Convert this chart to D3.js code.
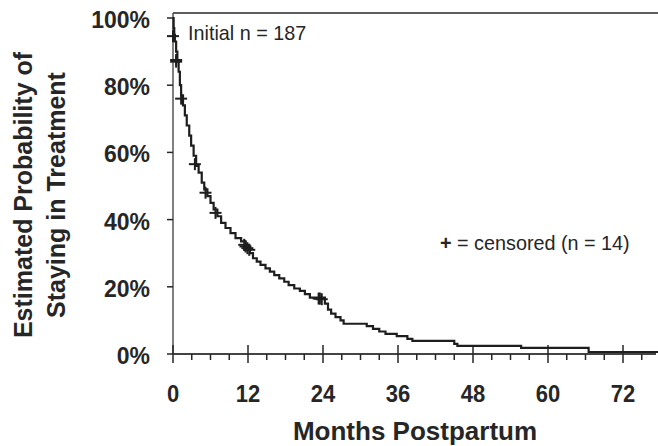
<!DOCTYPE html>
<html>
<head>
<meta charset="utf-8">
<script src="https://cdn.jsdelivr.net/npm/d3@7"></script>
<style>
  body { margin: 0; background: #fff; }
  svg text { font-family: "Liberation Sans", Arial, sans-serif; fill: #262626; }
</style>
</head>
<body>
<svg id="chart" width="658" height="446"></svg>
<script>
// Kaplan-Meier step estimates (months, survival after the drop)
const stepMonths = [0, 0.1, 0.2, 0.3, 0.5, 0.7, 0.9, 1.1, 1.3, 1.6, 1.9, 2.2, 2.6, 2.9, 3.3, 3.7,
  4.1, 4.6, 5.0, 5.5, 6.0, 6.5, 7.1, 7.7, 8.4, 9.2, 10.0, 10.9, 11.6, 12.3, 12.8, 13.4, 14.0,
  14.8, 15.5, 16.2, 17.0, 17.8, 18.5, 19.4, 20.3, 21.1, 21.9, 24.3, 24.8, 25.3, 26.0, 26.8,
  27.3, 31.0, 32.0, 33.0, 34.0, 35.8, 37.5, 38.3, 45.0, 45.5, 55.7, 66.5];
const stepSurvival = [1.0, 0.97, 0.95, 0.93, 0.90, 0.87, 0.84, 0.80, 0.77, 0.74, 0.71, 0.68, 0.65,
  0.62, 0.59, 0.56, 0.54, 0.51, 0.49, 0.47, 0.45, 0.43, 0.41, 0.39, 0.375, 0.36, 0.345, 0.335,
  0.32, 0.30, 0.285, 0.275, 0.265, 0.255, 0.245, 0.235, 0.225, 0.215, 0.205, 0.195, 0.188,
  0.178, 0.168, 0.150, 0.132, 0.12, 0.11, 0.10, 0.09, 0.083, 0.075, 0.067, 0.060, 0.053, 0.045,
  0.039, 0.030, 0.024, 0.018, 0.006];
const lastMonth = 78;

// censored observations (+ marks)
const censorMonths = [0, 0.5, 0.5, 1.3, 3.5, 5.2, 6.8, 11.4, 11.6, 11.9, 12.2, 23.3, 23.5, 23.8];
const censorSurvival = [0.946, 0.875, 0.87, 0.76, 0.565, 0.48, 0.42, 0.325, 0.32, 0.315, 0.31,
  0.165, 0.165, 0.163];

const xTicks = [0, 12, 24, 36, 48, 60, 72];
const xMinorTicks = d3.range(3, 78, 3).filter(d => d % 12 != 0);
const yTicks = [0, 0.2, 0.4, 0.6, 0.8, 1.0];

const svg = d3.select("#chart");
const x = d3.scaleLinear().domain([0, lastMonth]).range([173, 660.5]);
const y = d3.scaleLinear().domain([0, 1]).range([354, 18]);
const ink = "#262626";

// top frame line
svg.append("line")
  .attr("x1", x(0)).attr("x2", 658)
  .attr("y1", 13).attr("y2", 13)
  .attr("stroke", ink).attr("stroke-width", 1.5);

// y axis
svg.append("line")
  .attr("x1", x(0)).attr("x2", x(0))
  .attr("y1", 13).attr("y2", y(0))
  .attr("stroke", "#555").attr("stroke-width", 1.5);
svg.selectAll(".ytick").data(yTicks).enter()
  .append("line")
  .attr("x1", x(0) - 6).attr("x2", x(0))
  .attr("y1", d => y(d)).attr("y2", d => y(d))
  .attr("stroke", ink).attr("stroke-width", 1.5);
svg.selectAll(".ylabel").data(yTicks).enter()
  .append("text")
  .attr("transform", d => "translate(150," + (y(d) + 10) + ") scale(1,1.08)")
  .attr("text-anchor", "end")
  .attr("font-size", 23).attr("font-weight", "bold")
  .text(d => Math.round(d * 100) + "%");

// x axis
svg.append("line")
  .attr("x1", x(0)).attr("x2", 656)
  .attr("y1", y(0)).attr("y2", y(0))
  .attr("stroke", "#444").attr("stroke-width", 2);
svg.selectAll(".xtick").data(xTicks).enter()
  .append("line")
  .attr("x1", d => x(d)).attr("x2", d => x(d))
  .attr("y1", y(0) - 9).attr("y2", y(0) + 9)
  .attr("stroke", ink).attr("stroke-width", 1.5);
svg.selectAll(".xminor").data(xMinorTicks).enter()
  .append("line")
  .attr("x1", d => x(d)).attr("x2", d => x(d))
  .attr("y1", y(0)).attr("y2", y(0) + 6)
  .attr("stroke", ink).attr("stroke-width", 1.5);
svg.selectAll(".xlabel").data(xTicks).enter()
  .append("text")
  .attr("transform", d => "translate(" + x(d) + ",402) scale(1,1.1)")
  .attr("text-anchor", "middle")
  .attr("font-size", 22).attr("font-weight", "bold")
  .text(d => d);

// axis titles
svg.append("text")
  .attr("x", 415).attr("y", 440)
  .attr("text-anchor", "middle")
  .attr("font-size", 26).attr("font-weight", "bold")
  .text("Months Postpartum");
const yTitle = svg.append("text")
  .attr("transform", "translate(0,195) rotate(-90)")
  .attr("text-anchor", "middle")
  .attr("font-size", 25).attr("font-weight", "bold");
yTitle.append("tspan").attr("x", 0).attr("y", 32).text("Estimated Probability of");
yTitle.append("tspan").attr("x", 0).attr("y", 65).text("Staying in Treatment");

// survival curve
const pts = stepMonths.map((t, i) => [t, stepSurvival[i]]);
pts.push([lastMonth, stepSurvival[stepSurvival.length - 1]]);
const line = d3.line().x(d => x(d[0])).y(d => y(d[1])).curve(d3.curveStepAfter);
svg.append("path")
  .attr("d", line(pts))
  .attr("fill", "none")
  .attr("stroke", "#1e1e1e")
  .attr("stroke-width", 2.2);

// censor marks
const censored = censorMonths.map((t, i) => [t, censorSurvival[i]]);
const marks = svg.selectAll(".censor").data(censored).enter()
  .append("g")
  .attr("transform", d => "translate(" + x(d[0]) + "," + y(d[1]) + ")");
marks.append("line").attr("x1", -6).attr("x2", 6).attr("y1", 0).attr("y2", 0)
  .attr("stroke", "#1e1e1e").attr("stroke-width", 2);
marks.append("line").attr("x1", 0).attr("x2", 0).attr("y1", -6).attr("y2", 6)
  .attr("stroke", "#1e1e1e").attr("stroke-width", 2);

// annotations
svg.append("text")
  .attr("x", 188).attr("y", 40)
  .attr("font-size", 19.8).attr("fill", "#333")
  .text("Initial n = 187");
const note = svg.append("text")
  .attr("x", 440).attr("y", 250)
  .attr("font-size", 19.8).attr("fill", "#333");
note.append("tspan").attr("font-weight", "bold").text("+");
note.append("tspan").text(" = censored (n = 14)");
</script>
</body>
</html>
